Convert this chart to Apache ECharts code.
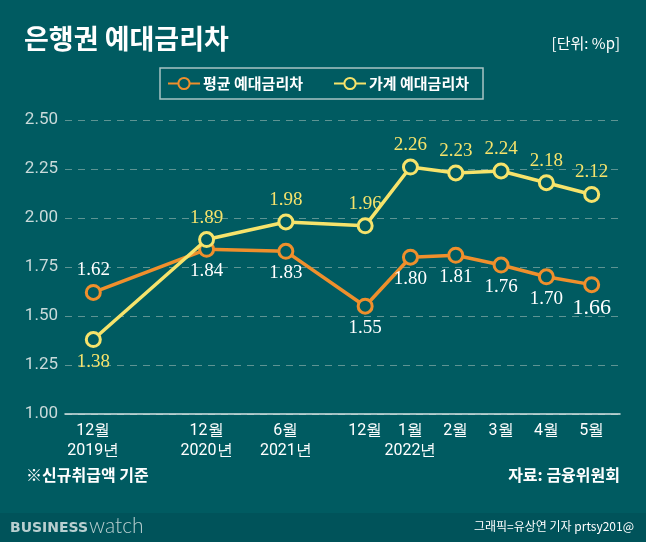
<!DOCTYPE html>
<html><head><meta charset="utf-8">
<script src="https://cdn.jsdelivr.net/npm/echarts@6/dist/echarts.min.js"></script>
<style>html,body{margin:0;padding:0;background:#005b61;}#c{width:646px;height:542px;}</style>
</head><body><div id="c"></div>
<script>
// ---- data ----
const periods = ['12월\n2019년', '12월\n2020년', '6월\n2021년', '12월', '1월\n2022년', '2월', '3월', '4월', '5월'];
const avgSpread = [1.62, 1.84, 1.83, 1.55, 1.80, 1.81, 1.76, 1.70, 1.66];
const householdSpread = [1.38, 1.89, 1.98, 1.96, 2.26, 2.23, 2.24, 2.18, 2.12];
const yTicks = [1.00, 1.25, 1.50, 1.75, 2.00, 2.25, 2.50];

// ---- layout helpers (uneven spacing between periods, in axis slots) ----
const slotGaps = [10, 7, 7, 4, 4, 4, 4, 4];
const pad = 2;
const cats = [];
const pos = [];
let f = 0;
for (let k = 0; k < pad; k++) cats.push('_' + (f++));
periods.forEach((p, i) => {
  pos.push(cats.length);
  cats.push(p);
  if (i < slotGaps.length) for (let k = 0; k < slotGaps[i] - 1; k++) cats.push('_' + (f++));
});
for (let k = 0; k < pad; k++) cats.push('_' + (f++));
const isReal = (idx, val) => !String(val).startsWith('_');

const ORANGE = '#ef8f2c', YELLOW = '#f6e36b', BG = '#005b61';
const serif = '"Liberation Serif", "DejaVu Serif", serif';
const sans = '"Noto Sans CJK KR", "Noto Sans", sans-serif';

const avgData = avgSpread.map((v, i) => ({
  value: [pos[i], v],
  label: { position: i === 0 ? 'top' : 'bottom', fontSize: i === avgSpread.length - 1 ? 22 : 19 }
}));
const hhData = householdSpread.map((v, i) => ({
  value: [pos[i], v],
  label: { position: i === 0 ? 'bottom' : 'top' }
}));

const chart = echarts.init(document.getElementById('c'), null, { renderer: 'canvas' });
chart.setOption({
  backgroundColor: BG,
  animation: false,
  graphic: [
    { type: 'rect', left: 0, top: 513, shape: { width: 646, height: 29 }, style: { fill: '#00535a' }, z: -1 },
    { type: 'text', left: 24, top: 25, style: { text: '은행권 예대금리차', fill: '#ffffff', font: 'bold 27px ' + sans } },
    { type: 'text', right: 26, top: 36, style: { text: '[단위: %p]', fill: '#ffffff', font: '15px ' + sans } },
    { type: 'text', left: 26, top: 467, style: { text: '※신규취급액 기준', fill: '#ffffff', font: 'bold 16px ' + sans } },
    { type: 'text', right: 26, top: 467, style: { text: '자료: 금융위원회', fill: '#ffffff', font: 'bold 16px ' + sans } },
    { type: 'text', left: 10, top: 521, style: { text: 'BUSINESS', fill: '#b9cfd0', font: 'bold 14px "DejaVu Sans", sans-serif' } },
    { type: 'text', left: 89, top: 516, style: { text: 'watch', fill: '#b9cfd0', font: '300 21px Lato, "Noto Sans", sans-serif' } },
    { type: 'text', right: 12, top: 520, style: { text: '그래픽=유상연 기자 prtsy201@', fill: '#ffffff', font: '12px ' + sans } }
  ],
  legend: {
    left: 160, top: 68,
    padding: [8, 14, 8, 7],
    borderColor: '#a8c4c4', borderWidth: 1.5,
    itemWidth: 32, itemHeight: 14, itemGap: 30,
    textStyle: { color: '#ffffff', fontSize: 15, fontFamily: sans, fontWeight: 'bold', padding: [0, 0, 0, -2] },
    data: ['평균 예대금리차', '가계 예대금리차']
  },
  grid: { left: 65, right: 26, top: 120, bottom: 128 },
  xAxis: {
    type: 'category',
    data: cats,
    boundaryGap: true,
    axisLine: { lineStyle: { color: '#d6e4e4', width: 1.5 } },
    axisTick: { inside: true, length: 8, alignWithLabel: true, interval: isReal, lineStyle: { color: '#d6e4e4', width: 1.2 } },
    axisLabel: { interval: isReal, color: '#ffffff', fontSize: 16, fontFamily: 'Roboto, sans-serif', lineHeight: 20, margin: 7 },
    splitLine: { show: false }
  },
  yAxis: {
    type: 'value', min: 1, max: 2.5, interval: 0.25,
    axisLine: { show: false }, axisTick: { show: false },
    axisLabel: { color: '#c9dada', fontSize: 17, fontFamily: 'Roboto, sans-serif', margin: 7,
      formatter: v => yTicks.find(t => Math.abs(t - v) < 1e-6).toFixed(2) },
    splitLine: { lineStyle: { color: '#5e9493', type: [7, 6], width: 1 } }
  },
  series: [
    {
      name: '평균 예대금리차', type: 'line', data: avgData,
      symbol: 'circle', symbolSize: 14,
      itemStyle: { color: BG, borderColor: ORANGE, borderWidth: 3 },
      lineStyle: { color: ORANGE, width: 3.5 },
      label: { show: true, color: '#ffffff', fontFamily: serif, fontSize: 19, distance: 4,
        formatter: p => p.value[1].toFixed(2) },
      z: 3
    },
    {
      name: '가계 예대금리차', type: 'line', data: hhData,
      symbol: 'circle', symbolSize: 14,
      itemStyle: { color: BG, borderColor: YELLOW, borderWidth: 3 },
      lineStyle: { color: YELLOW, width: 3.5 },
      label: { show: true, color: YELLOW, fontFamily: serif, fontSize: 19, distance: 4,
        formatter: p => p.value[1].toFixed(2) },
      z: 4
    }
  ]
});
</script>
</body></html>
